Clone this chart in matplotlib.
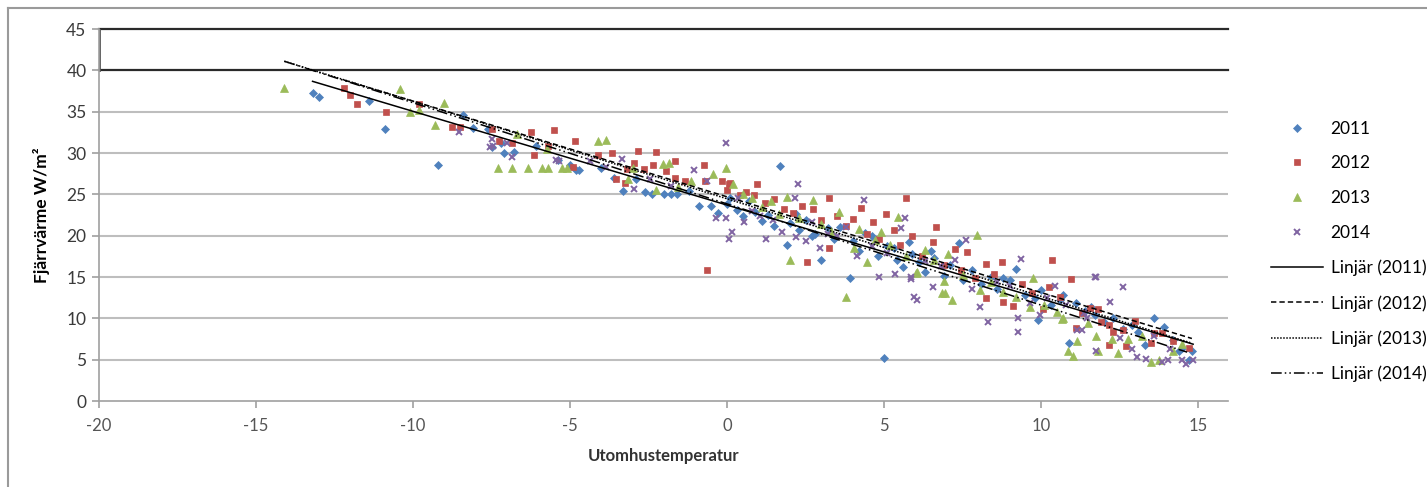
import numpy as np
import matplotlib
matplotlib.use("Agg")
import matplotlib.pyplot as plt
from matplotlib.lines import Line2D

plt.rcParams['font.family'] = ['Lato', 'DejaVu Sans']

# --- data ---
x2011 = [-13.2, -13.0, -11.4, -10.9, -9.2, -8.4, -8.1, -7.6, -7.5, -7.2, -7.1, -6.8, -6.1, -5.4, -5.0,
         -4.8, -4.7, -4.0, -3.6, -3.3, -2.9, -2.6, -2.4, -2.0, -1.8, -1.6, -1.2, -0.9, -0.5, -0.3,
         0.0, 0.1, 0.3, 0.5, 0.7, 0.9, 1.1, 1.3, 1.5, 1.7, 1.9, 2.0, 2.2, 2.3, 2.5, 2.7, 2.8, 3.0,
         3.2, 3.4, 3.6, 3.9, 4.0, 4.2, 4.4, 4.6, 4.8, 5.0, 5.1, 5.3, 5.4, 5.6, 5.8, 5.9, 6.1, 6.3,
         6.5, 6.6, 6.9, 7.1, 7.4, 7.5, 7.8, 8.1, 8.4, 8.6, 8.8, 9.0, 9.2, 9.5, 9.8, 9.9, 10.0, 10.3,
         10.6, 10.7, 10.9, 11.1, 11.4, 11.6, 11.7, 12.0, 12.3, 12.6, 12.9, 13.1, 13.3, 13.6, 13.9,
         14.2, 14.4, 14.5, 14.7, 14.8]
y2011 = [37.2, 36.8, 36.3, 32.9, 28.5, 34.6, 33.0, 32.9, 30.7, 31.2, 30.0, 30.1, 30.8, 29.1, 28.6,
         27.9, 27.9, 28.2, 27.0, 25.4, 26.8, 25.3, 25.0, 25.0, 25.1, 25.0, 25.4, 23.6, 23.6, 22.7,
         23.8, 24.6, 23.1, 22.4, 24.2, 22.9, 21.8, 22.5, 21.2, 28.4, 18.9, 21.5, 22.6, 20.7, 21.9,
         19.9, 20.2, 17.0, 20.9, 19.6, 21.1, 14.9, 19.3, 18.2, 20.3, 19.9, 17.6, 5.2, 18.8, 18.5,
         17.1, 16.2, 19.2, 17.8, 16.8, 15.6, 18.1, 17.3, 15.1, 16.4, 19.1, 14.6, 15.8, 14.2, 15.0,
         13.6, 14.9, 14.6, 16.0, 12.8, 12.4, 9.8, 13.4, 11.6, 12.2, 12.8, 7.05, 11.9, 10.9, 11.4,
         10.4, 9.6, 10.1, 8.7, 9.2, 8.4, 6.8, 10.1, 8.9, 7.4, 6.1, 6.4, 5.0, 6.0]

x2012 = [-12.2, -12.0, -11.8, -10.85, -9.8, -8.75, -8.5, -7.5, -7.25, -6.85, -6.25, -6.15, -5.7, -5.5,
         -4.9, -4.85, -4.1, -3.65, -3.55, -3.25, -3.2, -2.95, -2.85, -2.65, -2.35, -2.25, -1.95, -1.65,
         -1.65, -1.35, -0.75, -0.7, -0.65, -0.15, 0.0, 0.05, 0.1, 0.4, 0.6, 0.85, 0.95, 1.2, 1.5, 1.8,
         2.1, 2.4, 2.55, 2.75, 3.0, 3.25, 3.25, 3.5, 3.8, 4.0, 4.25, 4.45, 4.65, 4.85, 5.05, 5.3, 5.5,
         5.7, 5.9, 6.2, 6.55, 6.65, 6.9, 7.25, 7.45, 7.65, 7.9, 8.25, 8.25, 8.5, 8.75, 8.8, 9.1, 9.4,
         9.7, 10.05, 10.25, 10.35, 10.6, 10.95, 11.1, 11.3, 11.55, 11.8, 11.9, 12.15, 12.15, 12.3,
         12.6, 12.7, 13.0, 13.5, 13.6, 13.85, 14.2, 14.7]
y2012 = [37.9, 37.0, 35.9, 34.9, 35.9, 33.1, 33.1, 32.9, 31.5, 31.2, 32.5, 29.8, 30.8, 32.8, 28.3,
         31.4, 29.8, 30.0, 26.9, 26.4, 28.1, 28.8, 30.3, 28.1, 28.5, 30.1, 27.8, 29.0, 27.0, 26.6,
         28.5, 26.6, 15.8, 26.6, 25.5, 26.2, 26.4, 24.9, 25.3, 24.9, 26.3, 23.9, 24.4, 23.2, 22.8,
         23.6, 16.8, 23.2, 21.9, 24.5, 18.5, 22.4, 21.2, 22.0, 23.3, 20.2, 21.7, 19.6, 22.6, 20.7,
         18.9, 24.6, 19.9, 17.6, 19.2, 21.1, 16.5, 18.4, 15.8, 18.0, 14.9, 16.6, 12.4, 15.4, 16.8,
         12.0, 11.5, 14.2, 13.1, 11.1, 13.8, 17.0, 12.6, 14.8, 8.8, 10.6, 11.3, 11.1, 9.5, 9.2, 6.8,
         8.4, 8.6, 6.6, 9.7, 7.0, 8.2, 8.2, 7.3, 6.45]

x2013 = [-14.1, -10.4, -10.1, -9.8, -9.3, -9.0, -7.3, -6.85, -6.7, -6.35, -5.9, -5.75, -5.7, -5.25,
         -5.1, -4.1, -3.85, -3.15, -3.0, -2.25, -2.05, -1.85, -1.55, -1.15, -0.45, -0.05, 0.2, 0.5,
         0.8, 1.1, 1.4, 1.65, 1.9, 2.0, 2.3, 2.75, 3.0, 3.3, 3.55, 3.8, 4.05, 4.2, 4.45, 4.7, 4.9,
         5.2, 5.45, 5.7, 6.0, 6.05, 6.3, 6.6, 6.85, 6.9, 6.95, 7.05, 7.15, 7.5, 7.95, 8.05, 8.4, 8.8,
         9.2, 9.65, 9.75, 10.1, 10.5, 10.65, 10.7, 10.85, 11.0, 11.15, 11.5, 11.75, 11.8, 12.25,
         12.45, 12.75, 13.2, 13.5, 13.75, 14.2, 14.5]
y2013 = [37.9, 37.8, 35.0, 35.2, 33.4, 36.1, 28.2, 28.2, 32.3, 28.2, 28.2, 30.5, 28.2, 28.2, 28.2,
         31.4, 31.6, 26.9, 28.2, 25.5, 28.7, 28.8, 25.9, 26.6, 27.4, 28.2, 26.2, 25.1, 24.6, 23.5,
         24.2, 22.6, 24.7, 17.1, 22.1, 24.3, 21.4, 20.6, 22.9, 12.6, 18.5, 20.8, 16.8, 19.5, 20.5,
         18.9, 22.2, 17.6, 15.5, 15.6, 18.3, 17.1, 13.1, 14.5, 13.1, 17.8, 12.2, 15.3, 20.1, 13.4,
         14.4, 13.2, 12.6, 11.4, 14.9, 11.6, 10.8, 9.9, 10.0, 6.1, 5.4, 7.2, 9.4, 7.9, 6.1, 7.45,
         5.8, 7.55, 7.9, 4.75, 5.0, 6.1, 6.9]

x2014 = [-8.55, -7.55, -7.5, -7.45, -7.0, -6.85, -5.45, -5.35, -4.35, -3.85, -3.35, -2.95, -2.45,
         -1.8, -1.05, -0.65, -0.35, -0.05, -0.05, 0.05, 0.15, 0.35, 0.55, 0.8, 1.05, 1.25, 1.45, 1.75,
         2.15, 2.2, 2.25, 2.5, 2.7, 2.95, 3.2, 3.5, 3.8, 4.15, 4.35, 4.6, 4.85, 5.1, 5.35, 5.55, 5.65,
         5.85, 5.85, 5.95, 6.05, 6.3, 6.55, 6.8, 7.25, 7.6, 7.8, 8.05, 8.3, 8.6, 9.0, 9.25, 9.25, 9.35,
         9.65, 9.95, 10.2, 10.45, 10.8, 11.15, 11.3, 11.35, 11.45, 11.7, 11.75, 11.75, 12.2, 12.5,
         12.6, 12.9, 13.05, 13.35, 13.6, 13.85, 14.05, 14.1, 14.5, 14.6, 14.85]
y2014 = [32.6, 30.7, 31.7, 30.8, 31.2, 29.5, 29.2, 29.0, 29.0, 28.3, 29.3, 25.7, 26.8, 26.0, 27.9,
         26.6, 22.1, 31.2, 22.1, 19.6, 20.4, 24.5, 21.6, 23.0, 22.4, 19.6, 21.9, 20.5, 24.5, 19.8,
         26.2, 19.4, 21.6, 18.5, 20.2, 19.9, 21.0, 17.6, 24.3, 18.8, 15.0, 17.9, 15.4, 20.9, 22.1,
         15.0, 14.8, 12.6, 12.2, 16.9, 13.8, 16.3, 17.0, 19.5, 13.5, 11.4, 9.6, 14.4, 13.9, 10.1,
         8.4, 17.2, 11.8, 10.4, 12.5, 13.9, 11.6, 8.6, 8.6, 10.7, 10.0, 14.95, 15.0, 6.0, 12.0, 7.6,
         13.8, 6.3, 5.3, 5.1, 7.9, 4.75, 5.0, 6.3, 4.9, 4.5, 5.0]

years = ['2011', '2012', '2013', '2014']
# linear trend lines (slope, intercept, x from, x to)
trend_slope = [-1.134, -1.158, -1.18, -1.224]
trend_icept = [23.7, 24.7, 24.46, 23.84]
trend_from = [-13.2, -12.2, -14.1, -14.1]
trend_to = [14.84, 14.8, 14.8, 14.65]

colors = ['#4F81BD', '#C0504D', '#9BBB59', '#8064A2']
markers = ['D', 's', '^', 'x']
msizes = [3.8, 5.0, 5.4, 4.4]
trend_styles = ['-', (0, (3.5, 2)), (0, (1, 1)), (0, (7, 2, 1, 2, 1, 2))]

fig = plt.figure(figsize=(14.27, 4.87), dpi=100)
ax = fig.add_axes([99 / 1427, 1 - 401 / 487, 1129 / 1427, 372 / 487])

xs = [x2011, x2012, x2013, x2014]
ys = [y2011, y2012, y2013, y2014]
handles = []
for i in range(4):
    h, = ax.plot(xs[i], ys[i], linestyle='none', marker=markers[i], ms=msizes[i],
                 color=colors[i], mec=colors[i], mew=1.4 if markers[i] == 'x' else 0.5,
                 label=years[i], zorder=3)
    handles.append(h)

for i in range(4):
    tx = np.array([trend_from[i], trend_to[i]])
    h, = ax.plot(tx, trend_icept[i] + trend_slope[i] * tx, color='black', lw=1.1,
                 linestyle=trend_styles[i], label='Linjär (%s)' % years[i], zorder=4)
    handles.append(h)

ax.set_xlim(-20, 15.95)
ax.set_ylim(0, 45)
ax.set_xticks(np.arange(-20, 16, 5))
ax.set_yticks(np.arange(0, 46, 5))
ax.set_xticklabels([str(v) for v in range(-20, 16, 5)])

for v in range(5, 40, 5):
    ax.axhline(v, color='#BEBEBE', lw=1.5, zorder=1)
for v in (40, 45):
    ax.axhline(v, color='#2a2a2a', lw=1.6, zorder=1, clip_on=False)
ax.axvline(-20, ymin=40 / 45, ymax=1, color='#555555', lw=2.0, zorder=2)

for s in ('top', 'right'):
    ax.spines[s].set_visible(False)
for s in ('left', 'bottom'):
    ax.spines[s].set_color('#A0A0A0')
    ax.spines[s].set_linewidth(1.2)
ax.tick_params(axis='both', direction='out', color='#A0A0A0', width=1.2, length=5)
ax.tick_params(axis='y', labelsize=12.5, labelcolor='#3a3a3a', pad=4)
ax.tick_params(axis='x', labelsize=12, labelcolor='#555555', pad=7)

ax.set_ylabel('Fjärrvärme W/m²', fontsize=12.5, fontweight='bold', labelpad=12)
ax.set_xlabel('Utomhustemperatur', fontsize=12, fontweight='bold', color='#333333', labelpad=10)

fig.legend(handles=handles, loc='upper left', bbox_to_anchor=(1262 / 1427, 1 - 112 / 487),
           frameon=False, fontsize=12.5, handlelength=3.0, handletextpad=0.45,
           labelspacing=1.08, numpoints=1, borderpad=0)

# outer chart border (top and left edges)
fig.add_artist(Line2D([8 / 1427, 1], [1 - 8 / 487, 1 - 8 / 487], transform=fig.transFigure,
                      color='#9A9A9A', lw=1.5))
fig.add_artist(Line2D([8 / 1427, 8 / 1427], [0, 1 - 8 / 487], transform=fig.transFigure,
                      color='#9A9A9A', lw=1.5))

fig.savefig('out.png', dpi=100)
